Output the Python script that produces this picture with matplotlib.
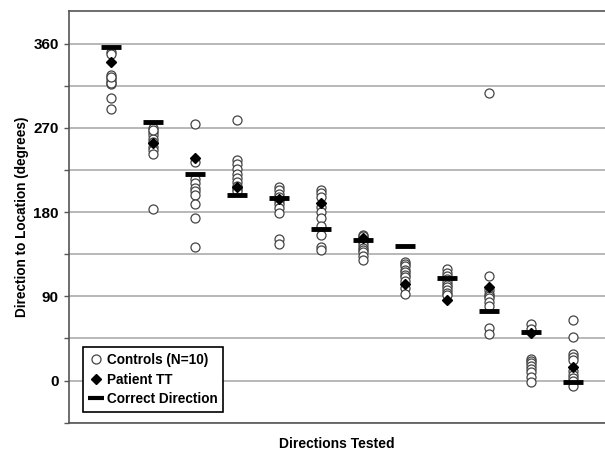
import matplotlib.pyplot as plt
import numpy as np

plt.rcParams['font.family'] = ['Liberation Sans', 'DejaVu Sans']
plt.rcParams['font.weight'] = 'bold'

# Richtungen 1..12
directions = np.arange(1, 13)

# Kontrollpersonen (je 10 Werte pro Richtung)
controls = [
    [351, 349, 326, 323, 320, 317, 302, 290, 318, 324],
    [270, 266, 262, 258, 250, 246, 242, 183, 268, 255],
    [274, 233, 215, 211, 206, 202, 198, 189, 174, 143],
    [278, 236, 231, 226, 221, 216, 212, 208, 205, 202],
    [207, 204, 199, 196, 192, 189, 184, 179, 151, 146],
    [204, 200, 196, 185, 180, 174, 165, 156, 143, 139],
    [156, 154, 150, 148, 145, 142, 140, 137, 133, 129],
    [127, 124, 122, 118, 116, 113, 111, 106, 99, 92],
    [119, 115, 112, 108, 105, 102, 100, 97, 94, 91],
    [307, 112, 97, 93, 90, 88, 84, 80, 56, 50],
    [60, 55, 23, 21, 19, 15, 12, 9, 4, -2],
    [65, 47, 28, 25, 22, 10, 6, 3, 0, -6],
]

# Patient TT
patient = [340, 254, 238, 207, 194, 190, 152, 103, 86, 100, 51, 14]

# Korrekte Richtung
correct = [356, 276, 221, 198, 195, 162, 150, 144, 110, 74, 52, -2]

fig = plt.figure(figsize=(6.05, 4.53), dpi=100)
ax = fig.add_axes([0.114, 0.067, 0.886, 0.909])

for g in np.arange(-45, 400, 45):
    ax.axhline(g, color='#b8b8b8', lw=1.4, zorder=0)

for d, vals in zip(directions, controls):
    ax.plot([d] * len(vals), vals, 'o', ms=6.5, mfc='white', mec='#444444',
            mew=0.9, ls='none', zorder=2)

ax.plot(directions, correct, '_', ms=15, mew=3.5, color='black', ls='none', zorder=3)
ax.plot(directions, patient, 'D', ms=5.5, color='black', ls='none', zorder=4)

# Legende
h1, = ax.plot([], [], 'o', ms=6.5, mfc='white', mec='#444444', mew=0.9, ls='none')
h2, = ax.plot([], [], 'D', ms=5, color='black', ls='none')
h3, = ax.plot([], [], '_', ms=12, mew=3, color='black', ls='none')
leg = ax.legend([h1, h2, h3], ['Controls (N=10)', 'Patient TT', 'Correct Direction'],
                loc='lower left', bbox_to_anchor=(0.014, 0.01), fancybox=False,
                framealpha=1, edgecolor='black', fontsize=9.8, handlelength=1.0,
                handletextpad=0.3, borderpad=0.42, labelspacing=0.4)
leg.get_frame().set_linewidth(1.2)
for t in leg.get_texts():
    t.set_fontweight('bold')

ax.set_xlim(0, 12.76)
ax.set_ylim(-45, 395)
ax.set_yticks(np.arange(-45, 400, 45))
ax.set_yticklabels(['' if v % 90 else str(v) for v in range(-45, 400, 45)])
ax.set_xticks([])
ax.tick_params(axis='y', length=3.6, width=1, color='#555555', labelsize=11, pad=3.6)
for lab in ax.get_yticklabels():
    lab.set_fontweight('bold')

ax.spines['right'].set_visible(False)
for s in ['left', 'top', 'bottom']:
    ax.spines[s].set_color('#555555')
    ax.spines[s].set_linewidth(1.2)

ax.set_ylabel('Direction to Location (degrees)', fontsize=9.8, fontweight='bold', labelpad=3)
ax.set_xlabel('Directions Tested', fontsize=10, fontweight='bold', labelpad=10)

fig.savefig('out.png', dpi=100)
